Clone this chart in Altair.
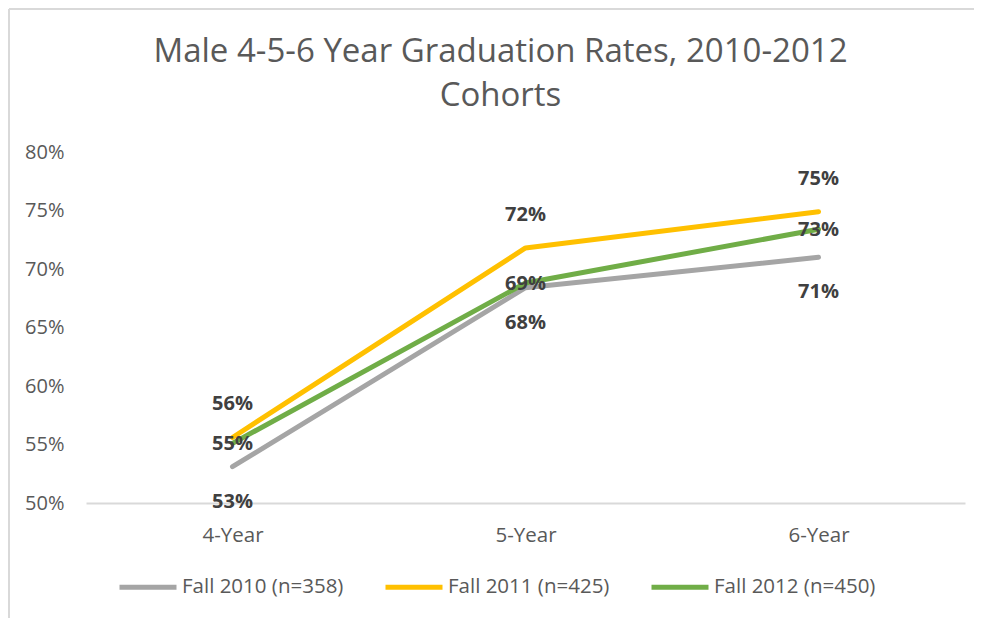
import altair as alt
import pandas as pd

categories = ["4-Year", "5-Year", "6-Year"]
series_names = ["Fall 2010 (n=358)", "Fall 2011 (n=425)", "Fall 2012 (n=450)"]
fall_2010 = [0.531, 0.684, 0.710]
fall_2011 = [0.556, 0.718, 0.749]
fall_2012 = [0.551, 0.688, 0.734]
series_colors = ["#A5A5A5", "#FFC000", "#70AD47"]
y_ticks = [0.50, 0.55, 0.60, 0.65, 0.70, 0.75, 0.80]

rows = []
for name, vals in zip(series_names, [fall_2010, fall_2011, fall_2012]):
    for c, v in zip(categories, vals):
        rows.append({"Period": c, "Cohort": name, "Rate": v})
df = pd.DataFrame(rows)

FONT = "Open Sans"
GREY_TXT = "#595959"

x_enc = alt.X("Period:N", sort=categories,
              scale=alt.Scale(paddingOuter=0.5),
              axis=alt.Axis(title=None, labelAngle=0, ticks=False, domain=True,
                            domainColor="#d9d9d9", domainWidth=2, labelPadding=22,
                            labelFont=FONT, labelFontSize=20.5, labelColor=GREY_TXT,
                            grid=False))
y_enc = alt.Y("Rate:Q", scale=alt.Scale(domain=[0.5, 0.8], nice=False, zero=False),
              axis=alt.Axis(title=None, values=y_ticks, format=".0%", ticks=False,
                            domain=False, grid=False, labelPadding=22,
                            labelFont=FONT, labelFontSize=20, labelColor=GREY_TXT))

base = alt.Chart(df)

lines = base.mark_line(strokeWidth=5, strokeCap="round", strokeJoin="round").encode(
    x=x_enc, y=y_enc,
    color=alt.Color("Cohort:N", sort=series_names,
                    scale=alt.Scale(domain=series_names, range=series_colors),
                    legend=alt.Legend(title=None, orient="none", direction="horizontal",
                                      legendX=31, legendY=404,
                                      symbolType="stroke", symbolSize=3249,
                                      symbolStrokeWidth=5, columnPadding=31,
                                      labelFont=FONT, labelFontSize=20.5,
                                      labelColor=GREY_TXT, labelOffset=3,
                                      labelLimit=400)),
    order=alt.Order("Cohort:N"),
)

def labels(name, dy):
    return base.transform_filter(alt.datum.Cohort == name).mark_text(
        font=FONT, fontSize=20, fontWeight="bold", color="#404040",
        baseline="middle", align="center", dy=dy,
    ).encode(x=alt.X("Period:N", sort=categories), y="Rate:Q",
             text=alt.Text("Rate:Q", format=".0%"))

border_data = alt.Data(values=[{"k": 1}])
border_top = alt.Chart(border_data).mark_rule(color="#d9d9d9", strokeWidth=2).encode(
    x=alt.value(-77), x2=alt.value(900), y=alt.value(-143))
border_left = alt.Chart(border_data).mark_rule(color="#d9d9d9", strokeWidth=2).encode(
    x=alt.value(-77), y=alt.value(-143), y2=alt.value(470))

chart = alt.layer(
    border_top, border_left, lines,
    labels(series_names[0], 35), labels(series_names[1], -33), labels(series_names[2], 1),
).properties(
    width=879, height=351,
    padding={"left": 78, "top": 144, "right": 9, "bottom": 115},
    autosize=alt.AutoSizeParams(type="none"),
    title=alt.TitleParams(["Male 4-5-6 Year Graduation Rates, 2010-2012", "Cohorts"],
                          font=FONT, fontSize=33, fontWeight="normal", color=GREY_TXT,
                          anchor="middle", lineHeight=44, offset=-105, dx=-25),
).configure_view(stroke=None)

chart.save("out.html", embed_options={"renderer": "svg", "actions": False})
